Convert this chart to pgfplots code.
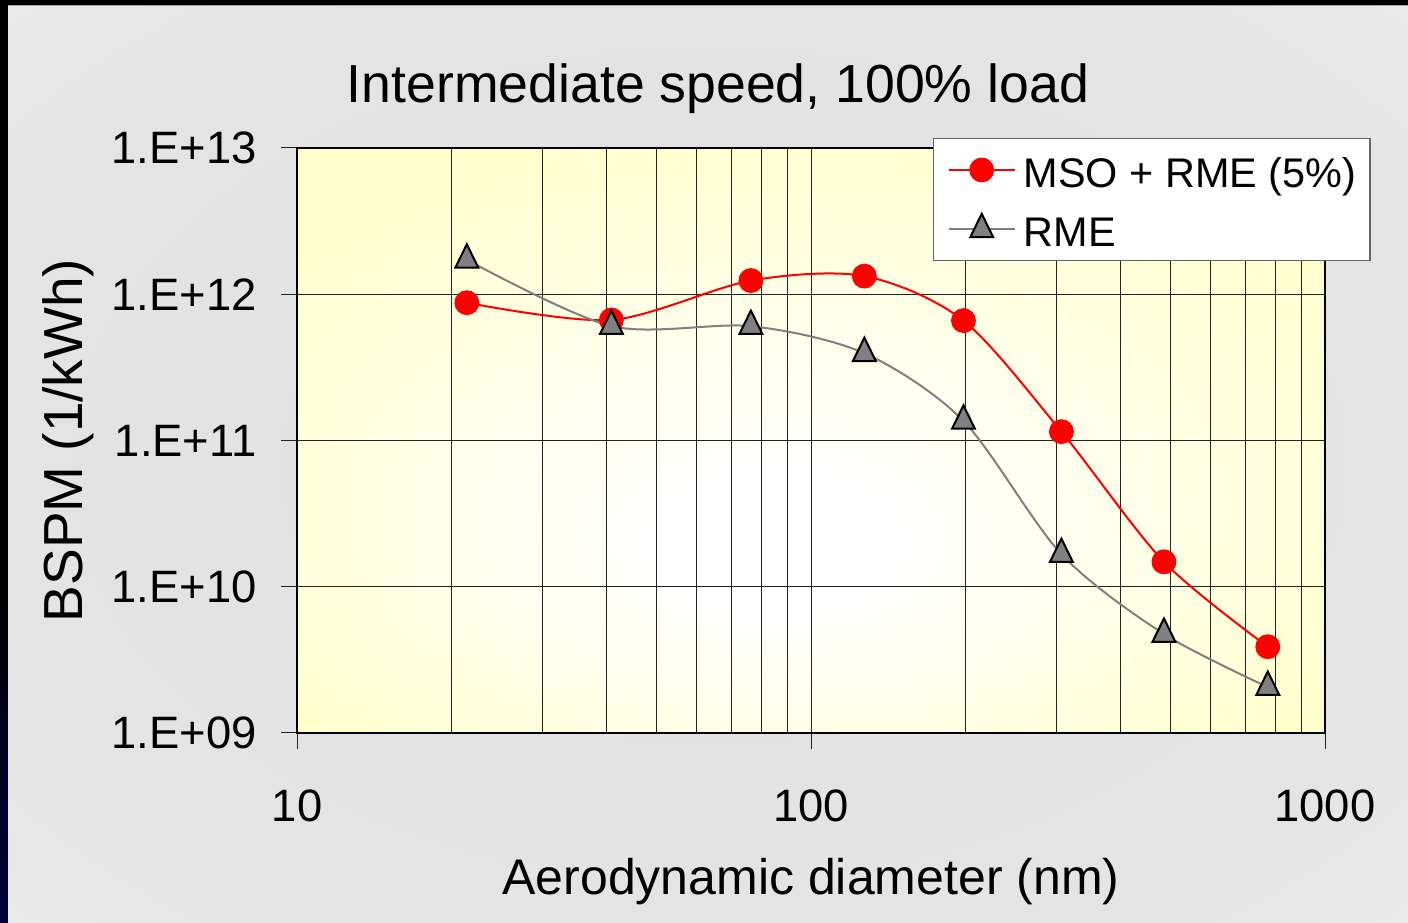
\documentclass[border=0pt]{standalone}
\usepackage{pgfplots}
\pgfplotsset{compat=1.18}
\usepackage{fontspec}
\setmainfont{Liberation Sans}
\definecolor{plotyellow}{RGB}{255,255,204}
\definecolor{mkgray}{RGB}{128,128,128}
\definecolor{gridc}{RGB}{35,35,35}
\pgfdeclareradialshading{plotbg}{\pgfpoint{-2bp}{-10bp}}{color(0bp)=(white); color(6bp)=(white); color(32bp)=(plotyellow); color(50bp)=(plotyellow)}
\pgfdeclareradialshading{panelbg}{\pgfpoint{0bp}{0bp}}{color(0bp)=(gray!24); color(28bp)=(gray!21); color(50bp)=(gray!7)}
\begin{document}
\begin{tikzpicture}
\useasboundingbox (0,0) rectangle (704pt,461pt);
\fill[black] (0,0) rectangle (704pt,461pt);
\shade[top color=black, bottom color={rgb,255:red,0;green,0;blue,60}] (0,0) rectangle (4pt,170pt);
\shade[shading=panelbg] (4pt,0) rectangle (704pt,458pt);
\draw[gray!70, line width=0.5pt] (4pt,458pt) -- (704pt,458pt);
\begin{axis}[
  at={(148.5pt,94.5pt)}, anchor=south west,
  width=514pt, height=292.5pt, scale only axis,
  xmode=log, ymode=log,
  xmin=10, xmax=1000, ymin=1e9, ymax=1e13,
  xtick={10,100,1000},
  xticklabels={\mbox{10},\mbox{100},\mbox{1000}},
  ytick={1e9,1e10,1e11,1e12,1e13},
  yticklabels={\mbox{1.E+09},\mbox{1.E+10},\mbox{1.E+11},\mbox{1.E+12},\mbox{1.E+13}},
  minor xtick={20,30,40,50,60,70,80,90,200,300,400,500,600,700,800,900},
  xmajorgrids, xminorgrids, ymajorgrids, yminorgrids=false,
  grid style={gridc, line width=0.5pt},
  minor grid style={gridc, line width=0.5pt},
  axis line style={black, line width=0.6pt},
  major tick style={gridc, line width=0.5pt},
  tick align=outside, major tick length=8pt, minor tick length=0pt,
  xtick pos=bottom, ytick pos=left,
  axis background/.style={shading=plotbg},
  ticklabel style={font=\fontsize{22.7}{24}\selectfont},
  yticklabel style={anchor=east, inner sep=0pt, xshift=-12pt},
  xticklabel style={anchor=base, inner sep=0pt, yshift=-36.5pt},
  title={Intermediate speed, 100\% load},
  title style={at={(axis description cs:0.4095,1.0769)}, anchor=base, inner sep=0pt, yshift=-6pt, font=\fontsize{26.8}{28}\selectfont},
  xlabel={Aerodynamic diameter (nm)},
  xlabel style={at={(axis description cs:0.5,-0.2769)}, anchor=base, inner sep=0pt, font=\fontsize{25}{27}\selectfont},
  ylabel={BSPM (1/kWh)},
  ylabel style={at={(axis description cs:-0.2082,0.5)}, anchor=base, inner sep=0pt, font=\fontsize{27.5}{29}\selectfont},
  legend style={at={(axis description cs:0.6187,1.0171)}, anchor=north west,
     draw={rgb,255:red,100;green,100;blue,100}, line width=0.7pt, fill=white,
     inner xsep=7pt, inner ysep=2pt, row sep=2.4pt, column sep=4pt,
     font=\fontsize{20.7}{22}\selectfont,
     nodes={inner sep=0pt, text height=22.3pt, text depth=5pt}},
  legend cell align=left,
  legend image code/.code={\draw[mark repeat=2,mark phase=2,#1] plot coordinates {(0pt,0pt) (16.5pt,0pt) (33pt,0pt)};},
]
\addplot[red, line width=1pt, smooth, tension=0.5, mark=*, mark size=6pt,
  mark options={fill=red, draw=red, line width=0.4pt, solid}]
  coordinates {(21.4,8.75e11) (40.9,6.67e11) (76.4,1.24e12) (127,1.33e12) (198,6.6e11) (307,1.15e11) (486,1.48e10) (774,3.89e9)};
\addlegendentry{MSO + RME (5\%)}
\addplot[mkgray, line width=1pt, smooth, tension=0.5, mark=triangle*, mark size=6.6pt,
  mark options={fill=mkgray, draw=black, line width=1pt, solid, yscale=1.18}]
  coordinates {(21.4,1.72e12) (40.9,6.05e11) (76.4,6.05e11) (127,3.95e11) (198,1.36e11) (307,1.67e10) (486,4.75e9) (774,2.06e9)};
\addlegendentry{RME}
\end{axis}
\end{tikzpicture}
\end{document}
